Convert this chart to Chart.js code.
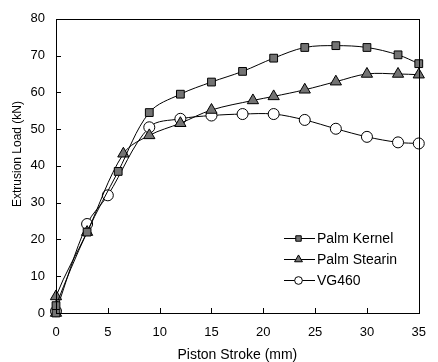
<!DOCTYPE html>
<html lang="en">
<head>
    <meta charset="UTF-8">
    <title>Extrusion Load vs Piston Stroke</title>
    <script src="https://cdn.jsdelivr.net/npm/chart.js"></script>
    <style>
        body {
            margin: 0;
            padding: 0;
            background-color: #ffffff;
        }

        .chart-container {
            width: 438px;
            height: 362px;
        }
    </style>
</head>
<body>
    <div class="chart-container">
        <canvas id="loadChart" width="438" height="362"></canvas>
    </div>

    <script>
        // Palm Kernel (squares)
        var kernelStroke = [0, 0, 3, 6, 9, 12, 15, 18, 21, 24, 27, 30, 33, 35];
        var kernelLoad   = [0, 2, 22, 38.5, 54.5, 59.5, 62.8, 65.7, 69.3, 72.2, 72.7, 72.2, 70.2, 67.8];

        // Palm Stearin (triangles)
        var stearinStroke = [0, 0, 3, 6.5, 9, 12, 15, 19, 21, 24, 27, 30, 33, 35];
        var stearinLoad   = [0, 4.5, 22, 43.3, 48.3, 51.6, 55.2, 57.8, 58.9, 60.7, 62.9, 65, 65, 64.8];

        // VG460 (open circles)
        var vgStroke = [0, 3, 5, 9, 12, 15, 18, 21, 24, 27, 30, 33, 35];
        var vgLoad   = [0.5, 24.2, 32, 50.5, 52.8, 53.7, 54.1, 54.1, 52.5, 50.1, 47.9, 46.4, 46.1];

        var xTicks = [0, 5, 10, 15, 20, 25, 30, 35];
        var yTicks = [0, 10, 20, 30, 40, 50, 60, 70, 80];

        var seriesNames = ['Palm Kernel', 'Palm Stearin', 'VG460'];
        var yTitle = 'Extrusion Load (kN)';

        function toPoints(xs, ys) {
            return xs.map(function (x, i) { return { x: x, y: ys[i] }; });
        }

        var fontFamily = "'Liberation Sans', Arial, sans-serif";
        var markerGray = '#737373';

        // box around the plot, inside ticks, y title and a legend inside the plot area
        var framePlugin = {
            id: 'frame',
            afterDatasetsDraw: function (chart) {
                var ctx = chart.ctx;
                var area = chart.chartArea;
                var xs = chart.scales.x;
                var ys = chart.scales.y;
                ctx.save();
                ctx.strokeStyle = '#000';
                ctx.lineWidth = 1;
                ctx.strokeRect(Math.round(area.left) + 0.5, Math.round(area.top) + 0.5,
                    Math.round(area.right - area.left), Math.round(area.bottom - area.top));

                ctx.beginPath();
                xTicks.forEach(function (v) {
                    var px = Math.round(xs.getPixelForValue(v)) + 0.5;
                    ctx.moveTo(px, area.bottom);
                    ctx.lineTo(px, area.bottom - 5);
                });
                yTicks.forEach(function (v) {
                    var py = Math.round(ys.getPixelForValue(v)) + 0.5;
                    ctx.moveTo(area.left, py);
                    ctx.lineTo(area.left + 5, py);
                });
                ctx.stroke();

                // y axis title (sits a bit above the middle in the original)
                ctx.save();
                ctx.translate(18, 154);
                ctx.rotate(-Math.PI / 2);
                ctx.font = '12px ' + fontFamily;
                ctx.fillStyle = '#000';
                ctx.textAlign = 'center';
                ctx.textBaseline = 'middle';
                ctx.fillText(yTitle, 0, 0);
                ctx.restore();

                // legend
                var lx = 284, ly = 238, rowGap = 21;
                ctx.font = '14px ' + fontFamily;
                ctx.textBaseline = 'middle';
                ctx.textAlign = 'left';
                chart.data.datasets.forEach(function (ds, i) {
                    var y = ly + i * rowGap;
                    ctx.beginPath();
                    ctx.strokeStyle = '#000';
                    ctx.moveTo(lx, y + 0.5);
                    ctx.lineTo(lx + 31, y + 0.5);
                    ctx.stroke();
                    ctx.fillStyle = ds.pointBackgroundColor;
                    ctx.strokeStyle = ds.pointBorderColor;
                    Chart.helpers.drawPoint(ctx, {
                        pointStyle: ds.pointStyle,
                        radius: ds.pointRadius * 0.7,
                        borderWidth: 1,
                        rotation: 0
                    }, lx + 14.5, y + 0.5);
                    ctx.fillStyle = '#000';
                    ctx.fillText(ds.label, lx + 33, y + 1);
                });
                ctx.restore();
            }
        };

        var ctx = document.getElementById('loadChart').getContext('2d');

        var loadChart = new Chart(ctx, {
            type: 'line',
            data: {
                datasets: [{
                    label: seriesNames[0],
                    data: toPoints(kernelStroke, kernelLoad),
                    borderColor: '#000',
                    borderWidth: 1,
                    pointStyle: 'rect',
                    pointRadius: 5.5,
                    pointBackgroundColor: markerGray,
                    pointBorderColor: '#000',
                    pointBorderWidth: 1
                }, {
                    label: seriesNames[1],
                    data: toPoints(stearinStroke, stearinLoad),
                    borderColor: '#000',
                    borderWidth: 1,
                    pointStyle: 'triangle',
                    pointRadius: 6.5,
                    pointBackgroundColor: markerGray,
                    pointBorderColor: '#000',
                    pointBorderWidth: 1
                }, {
                    label: seriesNames[2],
                    data: toPoints(vgStroke, vgLoad),
                    borderColor: '#000',
                    borderWidth: 1,
                    pointStyle: 'circle',
                    pointRadius: 5.5,
                    pointBackgroundColor: '#fff',
                    pointBorderColor: '#000',
                    pointBorderWidth: 1
                }]
            },
            options: {
                responsive: false,
                animation: false,
                clip: false,
                tension: 0.35,
                layout: {
                    padding: { top: 14, right: 7, left: 0, bottom: 0 }
                },
                plugins: {
                    legend: { display: false },
                    tooltip: { enabled: false }
                },
                scales: {
                    x: {
                        type: 'linear',
                        min: 0,
                        max: 35,
                        afterFit: function (scale) { scale.height = 49; },
                        afterBuildTicks: function (scale) {
                            scale.ticks = xTicks.map(function (v) { return { value: v }; });
                        },
                        grid: { display: false, drawTicks: false },
                        border: { display: false },
                        ticks: {
                            color: '#000',
                            padding: 12,
                            maxRotation: 0,
                            font: { family: fontFamily, size: 13 }
                        },
                        title: {
                            display: true,
                            text: 'Piston Stroke (mm)',
                            color: '#000',
                            padding: { top: 0, bottom: -2 },
                            font: { family: fontFamily, size: 14 }
                        }
                    },
                    y: {
                        min: 0,
                        max: 80,
                        afterFit: function (scale) { scale.width = 56; },
                        afterBuildTicks: function (scale) {
                            scale.ticks = yTicks.map(function (v) { return { value: v }; });
                        },
                        grid: { display: false, drawTicks: false },
                        border: { display: false },
                        ticks: {
                            color: '#000',
                            padding: 11,
                            font: { family: fontFamily, size: 13 }
                        }
                    }
                }
            },
            plugins: [framePlugin]
        });
    </script>
</body>
</html>
